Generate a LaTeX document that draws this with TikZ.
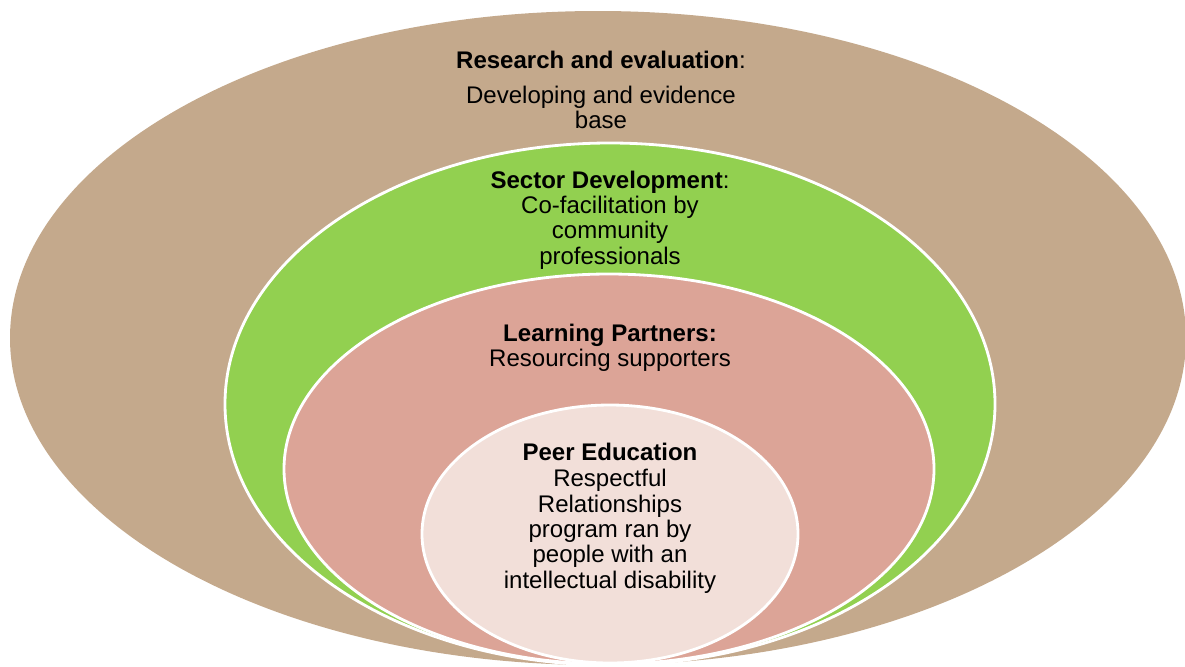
\documentclass[tikz,border=0pt]{standalone}
\usepackage{fontspec}
\setmainfont{Liberation Sans}

\definecolor{tan}{RGB}{196,169,140}
\definecolor{leaf}{RGB}{146,208,80}
\definecolor{rose}{RGB}{220,164,151}
\definecolor{blush}{RGB}{242,223,217}

\tikzset{
  ring/.style={draw=white, line width=2.4pt},
  blocktext/.style={align=center, inner sep=0pt, font=\fontsize{20.5}{21.7}\selectfont}
}

\begin{document}
\begin{tikzpicture}[x=0.03cm,y=-0.03cm]

            \useasboundingbox (0,0) rectangle (1185,666);
            \clip (0,0) rectangle (1185,666);

            % nested rings
            \fill[tan] (598,338) ellipse [x radius=588, y radius=327];
            \filldraw[ring, fill=leaf] (610,404) ellipse [x radius=385, y radius=261];
            \filldraw[ring, fill=rose] (609,469) ellipse [x radius=325, y radius=195];
            \filldraw[ring, fill=blush] (610,534) ellipse [x radius=188, y radius=129];

            % ring labels
            \node [blocktext] (research) at (601,90)
              {\textbf{Research and evaluation}:\\[8pt]
               Developing and evidence\\ base};

            \node [blocktext] (sector) at (610,220)
              {\textbf{Sector Development}:\\ Co-facilitation by\\ community\\ professionals};

            \node [blocktext] (partners) at (610,348)
              {\textbf{Learning Partners:}\\ Resourcing supporters};

            \node [blocktext] (peer) at (610,518)
              {\textbf{Peer Education}\\[1pt] Respectful\\ Relationships\\ program ran by\\
               people with an\\ intellectual disability};

        \end{tikzpicture}
\end{document}
